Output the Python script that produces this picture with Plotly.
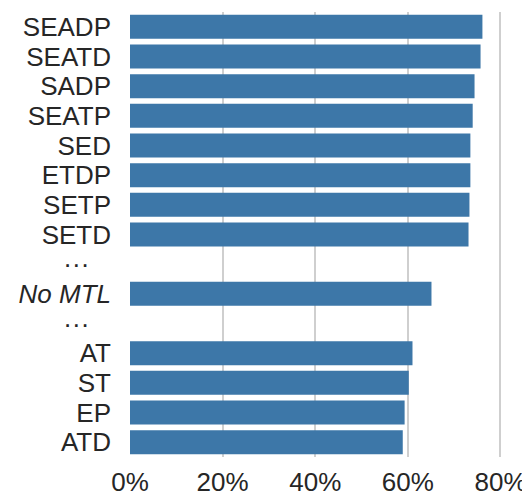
import plotly.graph_objects as go

categories = ["SEADP", "SEATD", "SADP", "SEATP", "SED", "ETDP", "SETP", "SETD",
              "gap1", "No MTL", "gap2", "AT", "ST", "EP", "ATD"]
tick_labels = ["SEADP", "SEATD", "SADP", "SEATP", "SED", "ETDP", "SETP", "SETD",
               "···\u00a0\u00a0\u00a0", "<i>No MTL</i>", "···\u00a0\u00a0\u00a0",
               "AT", "ST", "EP", "ATD"]
values = [0.761, 0.757, 0.744, 0.740, 0.735, 0.735, 0.733, 0.731,
          None, 0.651, None, 0.610, 0.602, 0.593, 0.589]
x_ticks = [0, 0.2, 0.4, 0.6, 0.8]
x_tick_labels = ["0%", "20%", "40%", "60%", "80%"]

fig = go.Figure(go.Bar(
    x=values, y=categories, orientation="h",
    marker=dict(color="#3d77a8", line=dict(width=0)),
))

# page body has an 8px margin, so the figure is sized/shifted to compensate
fig.update_layout(
    width=522, height=487,
    margin=dict(l=122, r=10.5, t=4, b=38),
    paper_bgcolor="white", plot_bgcolor="white",
    bargap=0.19,
    showlegend=False,
    font=dict(family="Liberation Sans, Arial, sans-serif", size=26, color="#262626"),
)
fig.update_xaxes(
    range=[0, 0.84], tickvals=x_ticks, ticktext=x_tick_labels,
    showgrid=True, gridcolor="#cfcfcf", gridwidth=2,
    zeroline=False, showline=False, ticks="", ticklabelstandoff=7,
    automargin=False,
)
fig.update_yaxes(
    categoryorder="array", categoryarray=categories, autorange="reversed",
    tickvals=categories, ticktext=tick_labels,
    showgrid=False, zeroline=False, showline=False, ticks="", ticklabelstandoff=18,
    automargin=False,
)

fig.write_html("out.html")
